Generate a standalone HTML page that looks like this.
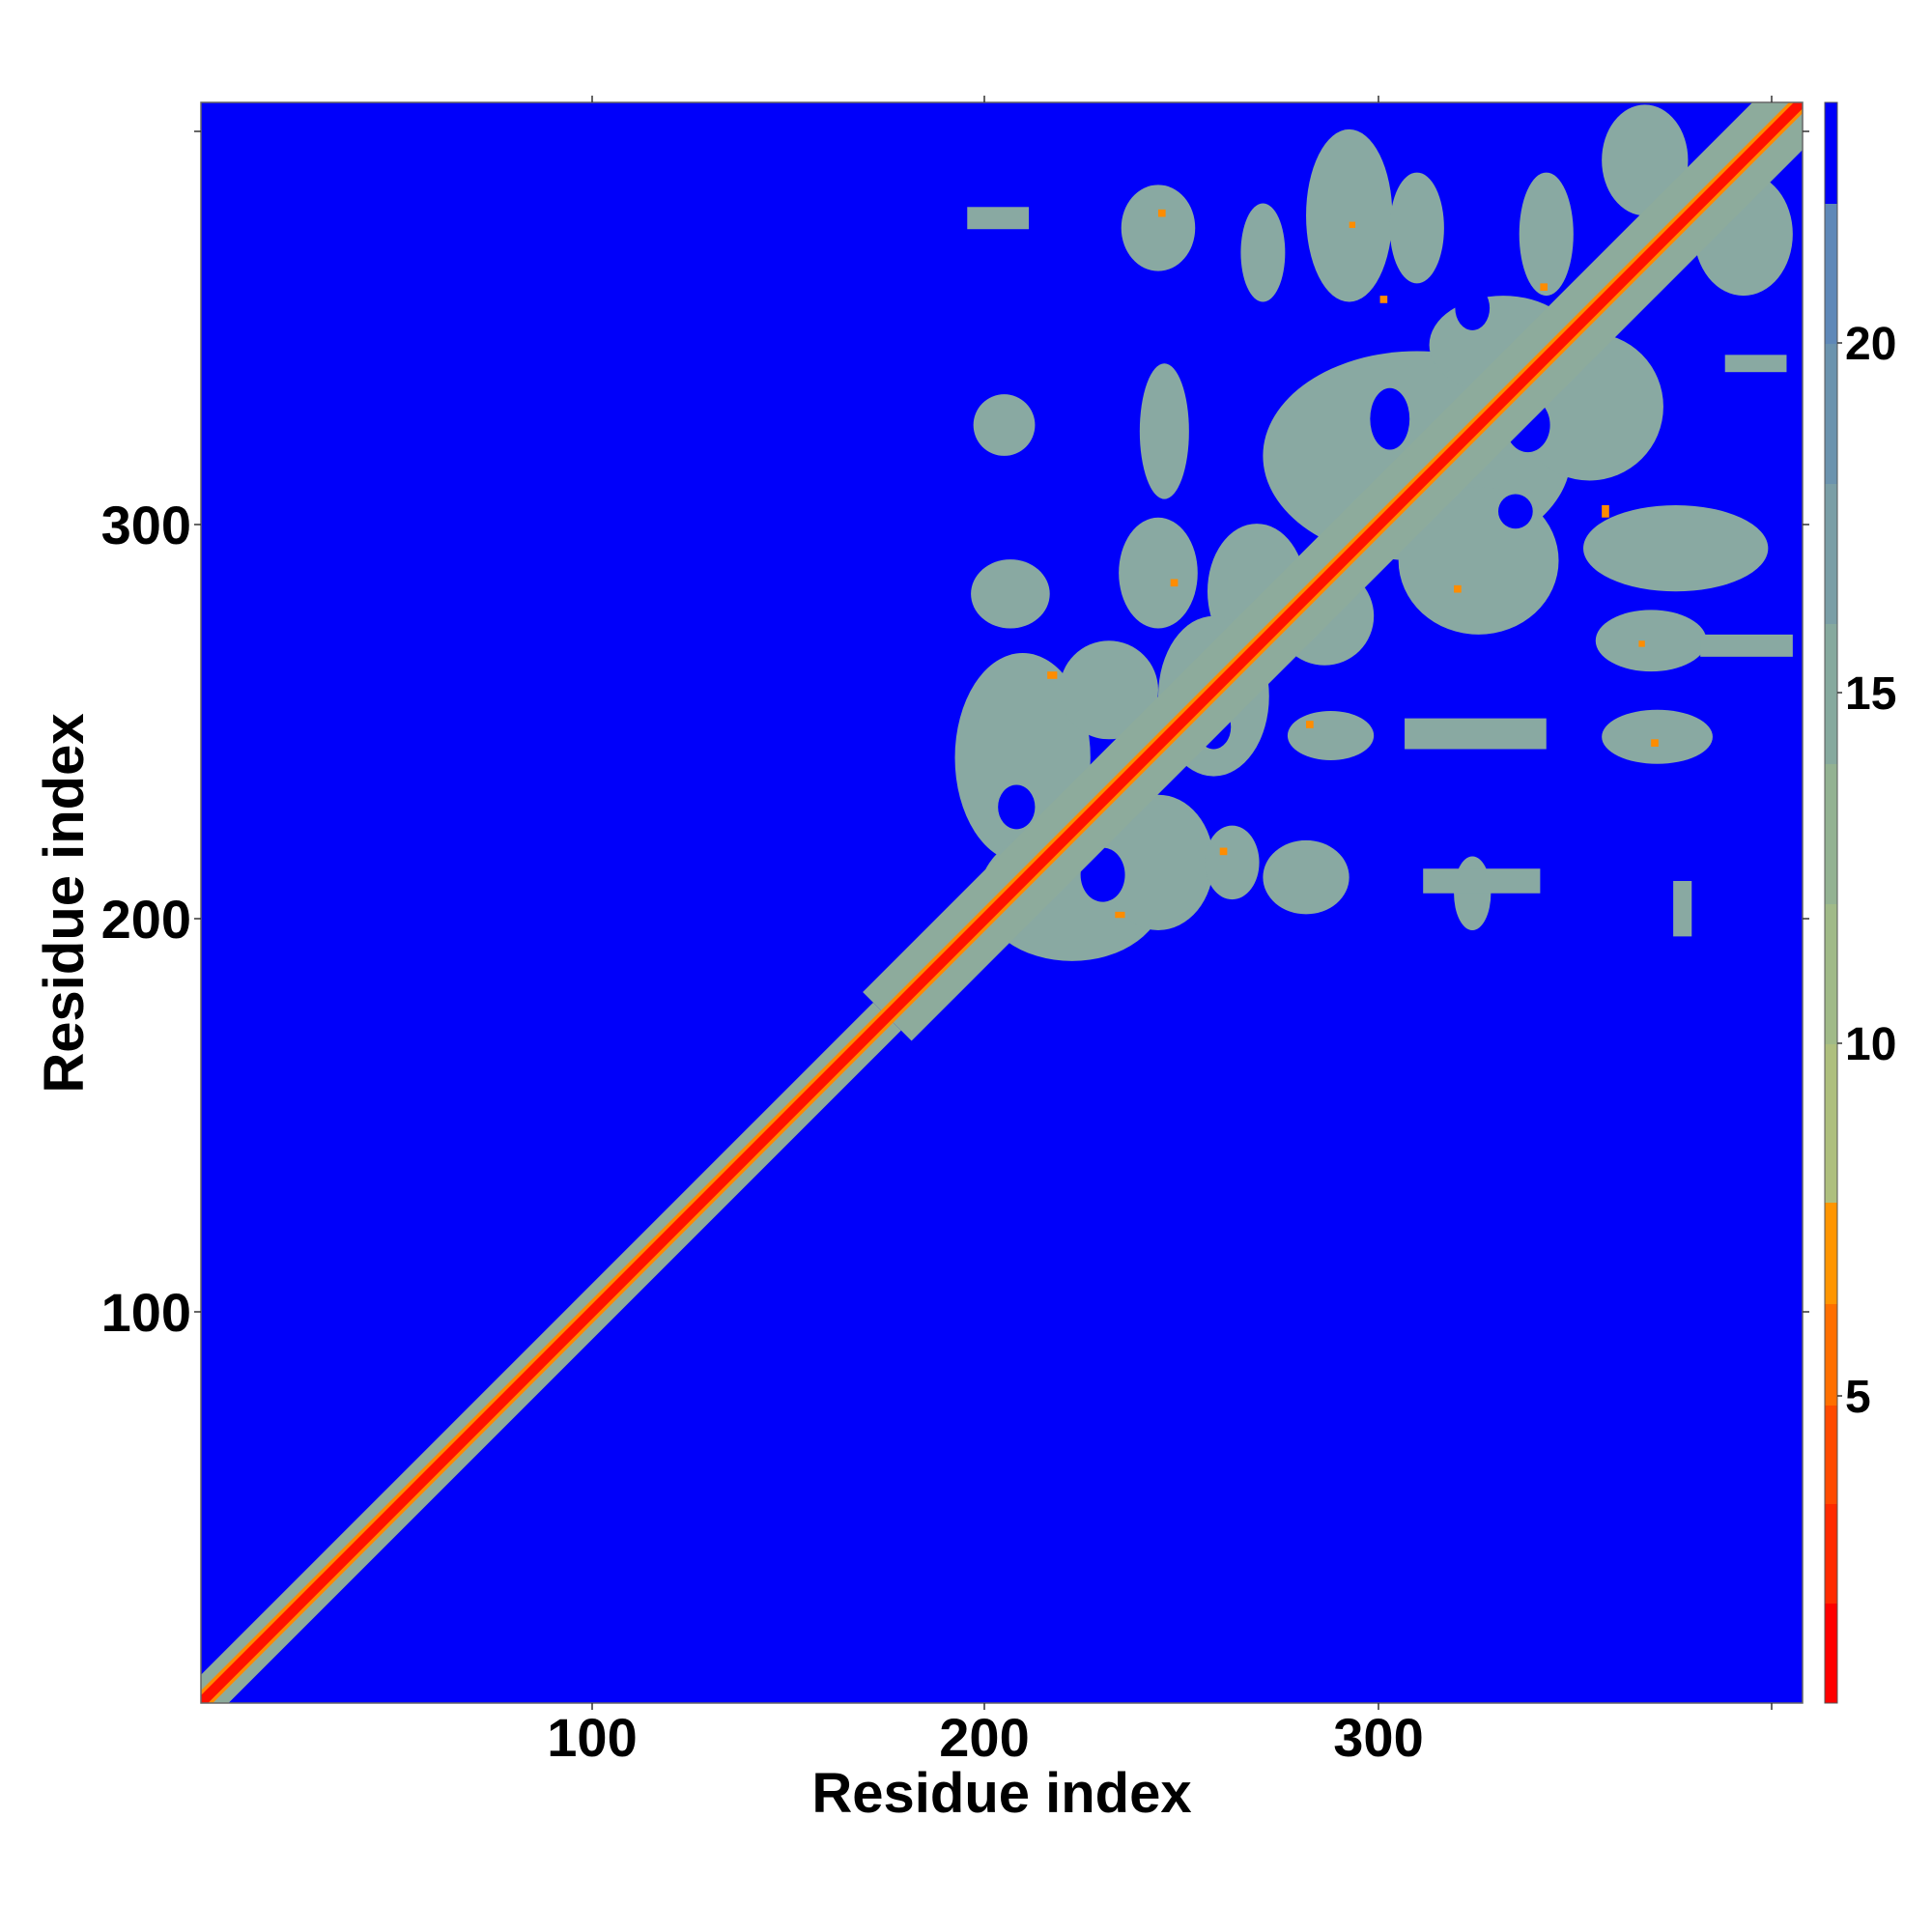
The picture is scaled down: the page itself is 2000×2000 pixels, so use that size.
<!DOCTYPE html>
<html><head><style>
html,body{margin:0;padding:0;background:#fff;width:2000px;height:2000px;overflow:hidden}
svg{display:block}
text{font-family:"Liberation Sans",Arial,sans-serif;font-weight:bold;fill:#000}
</style></head><body>
<svg width="2000" height="2000" viewBox="0 0 2000 2000" xmlns="http://www.w3.org/2000/svg">
<defs><clipPath id="pc"><rect x="208" y="106" width="1658" height="1657"/></clipPath></defs>
<rect x="208" y="106" width="1658" height="1657" fill="#0000fa"/>
<g clip-path="url(#pc)">
<g transform="scale(1.2755)">
<g fill="#89a9a2">
<ellipse cx="940" cy="185" rx="30" ry="35"/>
<ellipse cx="1025" cy="205" rx="18" ry="40"/>
<ellipse cx="1095" cy="175" rx="35" ry="70"/>
<ellipse cx="1150" cy="185" rx="22" ry="45"/>
<ellipse cx="1255" cy="190" rx="22" ry="50"/>
<ellipse cx="1335" cy="130" rx="35" ry="45"/>
<ellipse cx="1415" cy="190" rx="40" ry="50"/>
<rect x="785" y="168" width="50" height="18"/>
<ellipse cx="815" cy="345" rx="25" ry="25"/>
<ellipse cx="945" cy="350" rx="20" ry="55"/>
<ellipse cx="1150" cy="370" rx="125" ry="85"/>
<ellipse cx="1290" cy="330" rx="60" ry="60"/>
<ellipse cx="1220" cy="280" rx="60" ry="40"/>
<rect x="1400" y="288" width="50" height="14"/>
<ellipse cx="820" cy="482" rx="32" ry="28"/>
<ellipse cx="940" cy="465" rx="32" ry="45"/>
<ellipse cx="1020" cy="480" rx="40" ry="55"/>
<ellipse cx="1075" cy="500" rx="40" ry="40"/>
<ellipse cx="1200" cy="455" rx="65" ry="60"/>
<ellipse cx="1360" cy="445" rx="75" ry="35"/>
<ellipse cx="1340" cy="520" rx="45" ry="25"/>
<rect x="1380" y="515" width="75" height="18"/>
<ellipse cx="830" cy="615" rx="55" ry="85"/>
<ellipse cx="870" cy="725" rx="75" ry="55"/>
<ellipse cx="940" cy="700" rx="45" ry="55"/>
<ellipse cx="900" cy="560" rx="40" ry="40"/>
<ellipse cx="985" cy="565" rx="45" ry="65"/>
<ellipse cx="1000" cy="700" rx="22" ry="30"/>
<ellipse cx="1060" cy="712" rx="35" ry="30"/>
<ellipse cx="1080" cy="597" rx="35" ry="20"/>
<rect x="1140" y="583" width="115" height="25"/>
<ellipse cx="1345" cy="598" rx="45" ry="22"/>
<ellipse cx="1195" cy="725" rx="15" ry="30"/>
<rect x="1155" y="705" width="95" height="20"/>
<rect x="1358" y="715" width="15" height="45"/>
</g>
<g fill="#0000fa">
<ellipse cx="1128" cy="340" rx="16" ry="25"/>
<ellipse cx="1240" cy="345" rx="18" ry="22"/>
<ellipse cx="1195" cy="250" rx="14" ry="18"/>
<ellipse cx="825" cy="655" rx="15" ry="18"/>
<ellipse cx="895" cy="710" rx="18" ry="22"/>
<ellipse cx="985" cy="590" rx="14" ry="18"/>
<ellipse cx="1230" cy="415" rx="14" ry="14"/>
</g>
<g fill="#ff8c00">
<rect x="940" y="170" width="6" height="6"/><rect x="1095" y="180" width="5" height="5"/>
<rect x="1120" y="240" width="6" height="6"/><rect x="1250" y="230" width="6" height="6"/>
<rect x="1300" y="410" width="6" height="10"/><rect x="1330" y="520" width="5" height="5"/>
<rect x="850" y="545" width="8" height="6"/><rect x="950" y="470" width="6" height="6"/>
<rect x="990" y="688" width="6" height="6"/><rect x="1060" y="585" width="6" height="6"/>
<rect x="1340" y="600" width="6" height="6"/><rect x="905" y="740" width="8" height="5"/>
<rect x="1170" y="340" width="6" height="6"/><rect x="1180" y="475" width="6" height="6"/>
<rect x="1030" y="505" width="6" height="6"/><rect x="960" y="580" width="6" height="6"/>
</g>
<line x1="163" y1="1382" x2="720" y2="825" stroke="#8dab9c" stroke-width="32"/>
<line x1="720" y1="825" x2="1470" y2="75" stroke="#8dab9c" stroke-width="56"/>
<line x1="160" y1="1385" x2="1470" y2="75" stroke="#ff8a00" stroke-width="14"/>
<line x1="160" y1="1385" x2="1470" y2="75" stroke="#ff1000" stroke-width="8.5"/>
</g>
</g>
<rect x="208" y="106" width="1658" height="1657" fill="none" stroke="#666" stroke-width="1.5"/>
<g stroke="#333" stroke-width="1.5">
<line x1="613" y1="1763" x2="613" y2="1770"/><line x1="1019" y1="1763" x2="1019" y2="1770"/><line x1="1427" y1="1763" x2="1427" y2="1770"/><line x1="1834" y1="1763" x2="1834" y2="1770"/>
<line x1="613" y1="99" x2="613" y2="106"/><line x1="1019" y1="99" x2="1019" y2="106"/><line x1="1427" y1="99" x2="1427" y2="106"/><line x1="1834" y1="99" x2="1834" y2="106"/>
<line x1="201" y1="1358" x2="208" y2="1358"/><line x1="201" y1="951" x2="208" y2="951"/><line x1="201" y1="543" x2="208" y2="543"/><line x1="201" y1="136" x2="208" y2="136"/>
<line x1="1866" y1="1358" x2="1873" y2="1358"/><line x1="1866" y1="951" x2="1873" y2="951"/><line x1="1866" y1="543" x2="1873" y2="543"/><line x1="1866" y1="136" x2="1873" y2="136"/>
</g>
<rect x="1889" y="106" width="13" height="105" fill="#0000fa"/>
<rect x="1889" y="211" width="13" height="145" fill="#5f88b8"/>
<rect x="1889" y="356" width="13" height="145" fill="#6b93ae"/>
<rect x="1889" y="501" width="13" height="145" fill="#7a9ea6"/>
<rect x="1889" y="646" width="13" height="145" fill="#86a99e"/>
<rect x="1889" y="791" width="13" height="145" fill="#93b292"/>
<rect x="1889" y="936" width="13" height="145" fill="#a0ba88"/>
<rect x="1889" y="1081" width="13" height="164" fill="#aebf7e"/>
<rect x="1889" y="1245" width="13" height="105" fill="#ff9500"/>
<rect x="1889" y="1350" width="13" height="105" fill="#ff6f00"/>
<rect x="1889" y="1455" width="13" height="102" fill="#ff4a00"/>
<rect x="1889" y="1557" width="13" height="103" fill="#ff2a00"/>
<rect x="1889" y="1660" width="13" height="103" fill="#ff0000"/>
<rect x="1889" y="106" width="13" height="1657" fill="none" stroke="#555" stroke-width="1"/>
<g stroke="#333" stroke-width="1.5">
<line x1="1902" y1="355" x2="1907" y2="355"/><line x1="1902" y1="717" x2="1907" y2="717"/><line x1="1902" y1="1080" x2="1907" y2="1080"/><line x1="1902" y1="1445" x2="1907" y2="1445"/>
</g>
<g font-size="48">
<text x="1910" y="372">20</text><text x="1910" y="734">15</text><text x="1910" y="1097">10</text><text x="1910" y="1462">5</text>
</g>
<g font-size="56" text-anchor="middle">
<text x="613" y="1818">100</text><text x="1019" y="1818">200</text><text x="1427" y="1818">300</text>
</g>
<g font-size="56" text-anchor="end">
<text x="198" y="1378">100</text><text x="198" y="971">200</text><text x="198" y="563">300</text>
</g>
<text x="1037" y="1876" font-size="58" text-anchor="middle">Residue index</text>
<text transform="translate(86,935) rotate(-90)" font-size="58" text-anchor="middle">Residue index</text>
</svg>
</body></html>
